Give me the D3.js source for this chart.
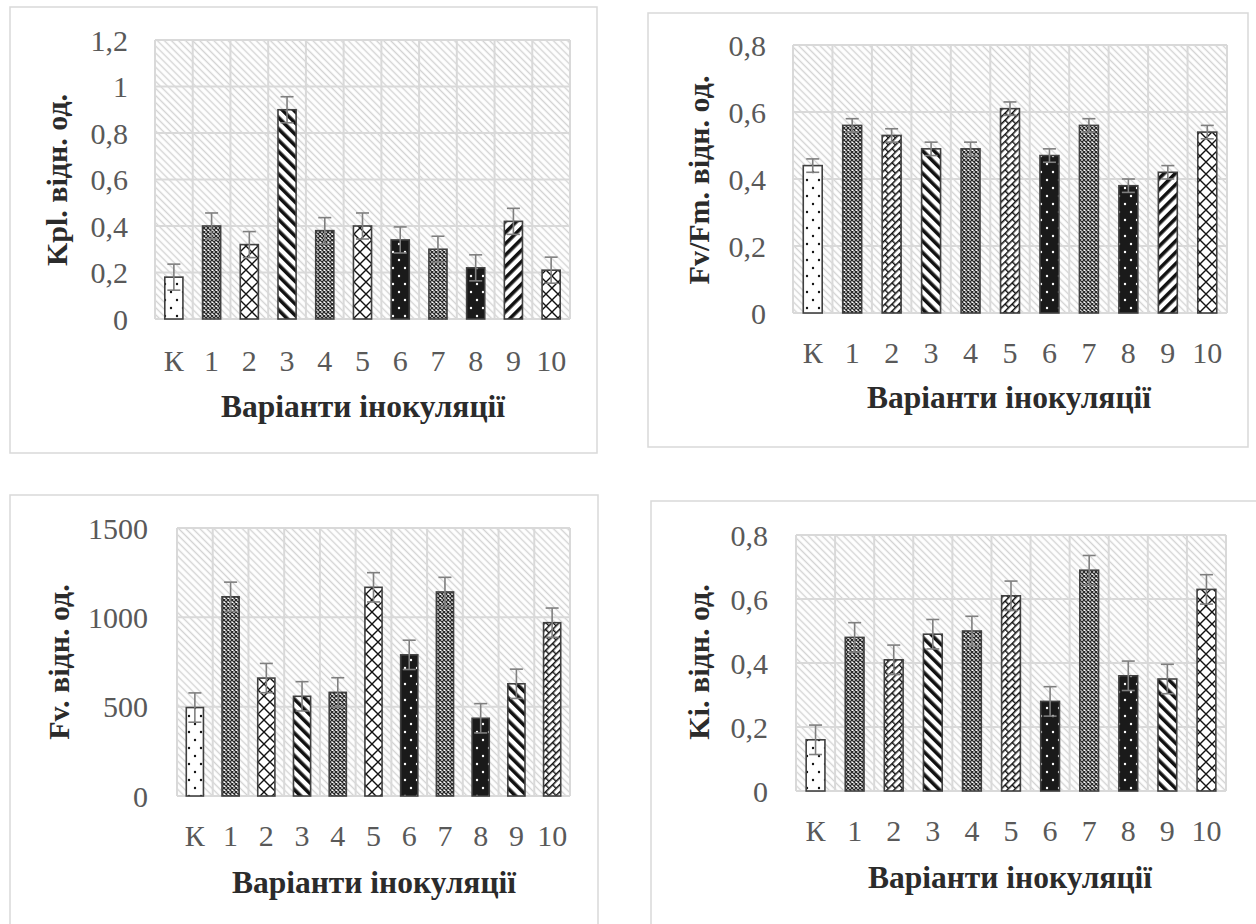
<!DOCTYPE html>
<html>
<meta charset="utf-8">
<style>
body { margin: 0; background: #fff; }
svg { display: block; }
text { font-family: 'Liberation Serif', 'Times New Roman', serif; }
.tick-label { font-size: 30px; fill: #595959; }
.axis-title { font-size: 30px; font-weight: bold; fill: #2b2b2b; }
.axis-title.x { font-size: 31.5px; }
.grid { stroke: #d9d9d9; stroke-width: 2; }
.frame { fill: none; stroke: #d9d9d9; stroke-width: 1.5; }
.bar { stroke: #404040; stroke-width: 1.6; }
.err { stroke: #7f7f7f; stroke-width: 1.6; }
</style>
<body>
<svg width="1256" height="924"></svg>
<script src="https://d3js.org/d3.v7.min.js"></script>
<script>

var categories = ["К", "1", "2", "3", "4", "5", "6", "7", "8", "9", "10"];

// Kpl
var kplValues = [0.18, 0.40, 0.32, 0.90, 0.38, 0.40, 0.34, 0.30, 0.22, 0.42, 0.21];
var kplErrors = [0.056, 0.056, 0.056, 0.056, 0.056, 0.056, 0.056, 0.056, 0.056, 0.056, 0.056];
var kplTicks = [0, 0.2, 0.4, 0.6, 0.8, 1, 1.2];
var kplFills = ["dots", "mesh", "lattice", "wdown", "mesh", "lattice", "bdots", "mesh", "bdots", "wup", "lattice"];

// Fv/Fm
var fvfmValues = [0.44, 0.56, 0.53, 0.49, 0.49, 0.61, 0.47, 0.56, 0.38, 0.42, 0.54];
var fvfmErrors = [0.02, 0.02, 0.02, 0.02, 0.02, 0.02, 0.02, 0.02, 0.02, 0.02, 0.02];
var fvfmTicks = [0, 0.2, 0.4, 0.6, 0.8];
var fvfmFills = ["dots", "mesh", "brick", "wdown", "mesh", "brick", "bdots", "mesh", "bdots", "wup", "lattice"];

// Fv
var fvValues = [495, 1115, 660, 558, 580, 1168, 790, 1142, 435, 628, 970];
var fvErrors = [82, 82, 82, 82, 82, 82, 82, 82, 82, 82, 82];
var fvTicks = [0, 500, 1000, 1500];
var fvFills = ["dots", "mesh", "lattice", "wdown", "mesh", "lattice", "bdots", "mesh", "bdots", "wdown", "brick"];

// Ki
var kiValues = [0.16, 0.48, 0.41, 0.49, 0.50, 0.61, 0.28, 0.69, 0.36, 0.35, 0.63];
var kiErrors = [0.046, 0.046, 0.046, 0.046, 0.046, 0.046, 0.046, 0.046, 0.046, 0.046, 0.046];
var kiTicks = [0, 0.2, 0.4, 0.6, 0.8];
var kiFills = ["dots", "mesh", "brick", "wdown", "mesh", "brick", "bdots", "mesh", "bdots", "wdown", "lattice"];

var xTitle = "Варіанти інокуляції";

var svg = d3.select("svg");
var defs = svg.append("defs");

// background hatch of plot area
var bg = defs.append("pattern").attr("id", "bg").attr("patternUnits", "userSpaceOnUse")
  .attr("width", 5).attr("height", 5).attr("patternTransform", "rotate(-45)");
bg.append("rect").attr("width", 5).attr("height", 5).attr("fill", "#fff");
bg.append("line").attr("x1", 2.5).attr("x2", 2.5).attr("y1", 0).attr("y2", 5)
  .attr("stroke", "#d3d3d3").attr("stroke-width", 1.4);

function stripes(id, angle) {
  var p = defs.append("pattern").attr("id", id).attr("patternUnits", "userSpaceOnUse")
    .attr("width", 8).attr("height", 8).attr("patternTransform", "rotate(" + angle + ")");
  p.append("rect").attr("width", 8).attr("height", 8).attr("fill", "#fff");
  p.append("rect").attr("width", 3.6).attr("height", 8).attr("fill", "#111");
}
stripes("wdown", -45);
stripes("wup", 45);

var mesh = defs.append("pattern").attr("id", "mesh").attr("patternUnits", "userSpaceOnUse")
  .attr("width", 4).attr("height", 4);
mesh.append("rect").attr("width", 4).attr("height", 4).attr("fill", "#fff");
mesh.append("path").attr("d", "M0,0L4,4M4,0L0,4").attr("stroke", "#2a2a2a").attr("stroke-width", 1.3);

function dots(id, back, dot) {
  var p = defs.append("pattern").attr("id", id).attr("patternUnits", "userSpaceOnUse")
    .attr("width", 12).attr("height", 16);
  p.append("rect").attr("width", 12).attr("height", 16).attr("fill", back);
  p.append("circle").attr("cx", 3).attr("cy", 4).attr("r", 1.2).attr("fill", dot);
  p.append("circle").attr("cx", 9).attr("cy", 12).attr("r", 1.2).attr("fill", dot);
}
dots("dots", "#fff", "#111");
dots("bdots", "#1a1a1a", "#fff");

var brick = defs.append("pattern").attr("id", "brick").attr("patternUnits", "userSpaceOnUse")
  .attr("width", 10).attr("height", 10).attr("patternTransform", "rotate(-45)");
brick.append("rect").attr("width", 10).attr("height", 10).attr("fill", "#fff");
brick.append("path").attr("d", "M0,0.7H10M0,5.7H10M0.7,0.7V5.7M5.7,5.7V10.7")
  .attr("stroke", "#111").attr("stroke-width", 1.4).attr("fill", "none");

var lattice = defs.append("pattern").attr("id", "lattice").attr("patternUnits", "userSpaceOnUse")
  .attr("width", 12).attr("height", 12);
lattice.append("rect").attr("width", 12).attr("height", 12).attr("fill", "#fff");
lattice.append("path").attr("d", "M0,0L12,12M12,0L0,12")
  .attr("stroke", "#111").attr("stroke-width", 1.4).attr("fill", "none");

function fmt(d) { return String(d).replace(".", ","); }

function drawPanel(cfg) {
  svg.append("rect").attr("class", "frame")
    .attr("x", cfg.frame[0]).attr("y", cfg.frame[1])
    .attr("width", cfg.frame[2]).attr("height", cfg.frame[3]);

  var x = d3.scaleBand().domain(categories).range([cfg.left, cfg.right]).padding(0);
  var y = d3.scaleLinear().domain([0, d3.max(cfg.ticks)]).range([cfg.bottom, cfg.top]);
  var g = svg.append("g");

  g.append("rect").attr("x", cfg.left).attr("y", cfg.top)
    .attr("width", cfg.right - cfg.left).attr("height", cfg.bottom - cfg.top)
    .attr("fill", "url(#bg)");

  g.selectAll(null).data(cfg.ticks).enter().append("line").attr("class", "grid")
    .attr("x1", cfg.left).attr("x2", cfg.right)
    .attr("y1", function(d) { return y(d); }).attr("y2", function(d) { return y(d); });

  var bounds = categories.map(function(c) { return x(c); }).concat([cfg.right]);
  g.selectAll(null).data(bounds).enter().append("line").attr("class", "grid")
    .attr("x1", function(d) { return d; }).attr("x2", function(d) { return d; })
    .attr("y1", cfg.top).attr("y2", cfg.bottom);

  g.selectAll(null).data(cfg.ticks).enter().append("text").attr("class", "tick-label")
    .attr("x", cfg.labelX).attr("y", function(d) { return y(d); })
    .attr("dy", "0.35em").attr("text-anchor", "end").text(fmt);

  var bw = x.bandwidth() * 0.48;
  var rows = categories.map(function(c, i) {
    return { cat: c, v: cfg.values[i], e: cfg.errors[i], fill: cfg.fills[i] };
  });

  g.selectAll(null).data(rows).enter().append("rect").attr("class", "bar")
    .attr("x", function(d) { return x(d.cat) + (x.bandwidth() - bw) / 2; })
    .attr("y", function(d) { return y(d.v); })
    .attr("width", bw)
    .attr("height", function(d) { return cfg.bottom - y(d.v); })
    .attr("fill", function(d) { return "url(#" + d.fill + ")"; });

  var cap = 6.5;
  var eb = g.selectAll(null).data(rows).enter().append("g");
  eb.append("line").attr("class", "err")
    .attr("x1", function(d) { return x(d.cat) + x.bandwidth() / 2; })
    .attr("x2", function(d) { return x(d.cat) + x.bandwidth() / 2; })
    .attr("y1", function(d) { return y(d.v - d.e); })
    .attr("y2", function(d) { return y(d.v + d.e); });
  [-1, 1].forEach(function(s) {
    eb.append("line").attr("class", "err")
      .attr("x1", function(d) { return x(d.cat) + x.bandwidth() / 2 - cap; })
      .attr("x2", function(d) { return x(d.cat) + x.bandwidth() / 2 + cap; })
      .attr("y1", function(d) { return y(d.v + s * d.e); })
      .attr("y2", function(d) { return y(d.v + s * d.e); });
  });

  g.selectAll(null).data(categories).enter().append("text").attr("class", "tick-label")
    .attr("x", function(d) { return x(d) + x.bandwidth() / 2; })
    .attr("y", cfg.catY).attr("dy", "0.35em").attr("text-anchor", "middle")
    .text(function(d) { return d; });

  g.append("text").attr("class", "axis-title x")
    .attr("x", cfg.xTitle[0]).attr("y", cfg.xTitle[1]).attr("dy", "0.35em")
    .attr("text-anchor", "middle").text(xTitle);

  g.append("text").attr("class", "axis-title")
    .attr("transform", "translate(" + cfg.yTitle[0] + "," + cfg.yTitle[1] + ") rotate(-90)")
    .attr("dy", "0.35em").attr("text-anchor", "middle").text(cfg.yName);
}

drawPanel({
  frame: [10, 7, 587, 446], left: 155, right: 570, top: 40, bottom: 319,
  labelX: 128, catY: 360, xTitle: [363, 406], yTitle: [56, 180],
  ticks: kplTicks, values: kplValues, errors: kplErrors, fills: kplFills,
  yName: "Kpl. відн. од."
});

drawPanel({
  frame: [648, 13, 600, 434], left: 793, right: 1227, top: 45, bottom: 313,
  labelX: 766, catY: 352, xTitle: [1009, 397], yTitle: [698, 180],
  ticks: fvfmTicks, values: fvfmValues, errors: fvfmErrors, fills: fvfmFills,
  yName: "Fv/Fm. відн. од."
});

drawPanel({
  frame: [10, 495, 588, 520], left: 177, right: 570, top: 528, bottom: 796,
  labelX: 148, catY: 835, xTitle: [374, 882], yTitle: [58, 662],
  ticks: fvTicks, values: fvValues, errors: fvErrors, fills: fvFills,
  yName: "Fv. відн. од."
});

drawPanel({
  frame: [651, 501, 700, 520], left: 796, right: 1226, top: 535, bottom: 791,
  labelX: 768, catY: 830, xTitle: [1010, 877], yTitle: [698, 662],
  ticks: kiTicks, values: kiValues, errors: kiErrors, fills: kiFills,
  yName: "Ki. відн. од."
});

</script>
</body>
</html>
